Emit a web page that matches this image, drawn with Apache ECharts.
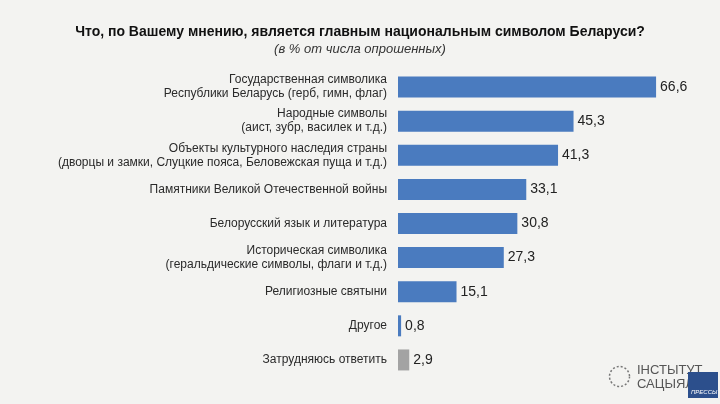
<!DOCTYPE html>
<html>
<head>
<meta charset="utf-8">
<script src="https://cdn.jsdelivr.net/npm/echarts@6/dist/echarts.min.js"></script>
<style>
  html, body { margin: 0; padding: 0; background: #f3f3f1; }
  #chart { width: 720px; height: 404px; }
</style>
</head>
<body>
<div id="chart"></div>
<script>
// ответы (сверху вниз)
var categories = [
    'Государственная символика\nРеспублики Беларусь (герб, гимн, флаг)',
    'Народные символы\n(аист, зубр, василек и т.д.)',
    'Объекты культурного наследия страны\n(дворцы и замки, Слуцкие пояса, Беловежская пуща и т.д.)',
    'Памятники Великой Отечественной войны',
    'Белорусский язык и литература',
    'Историческая символика\n(геральдические символы, флаги и т.д.)',
    'Религиозные святыни',
    'Другое',
    'Затрудняюсь ответить'
];
var values = [66.6, 45.3, 41.3, 33.1, 30.8, 27.3, 15.1, 0.8, 2.9];
var barColors = ['#4a7bbf', '#4a7bbf', '#4a7bbf', '#4a7bbf', '#4a7bbf', '#4a7bbf', '#4a7bbf', '#4a7bbf', '#a3a3a3'];

var chart = echarts.init(document.getElementById('chart'));
chart.setOption({
    backgroundColor: '#f3f3f1',
    title: {
        text: 'Что, по Вашему мнению, является главным национальным символом Беларуси?',
        subtext: '(в % от числа опрошенных)',
        left: 'center',
        top: 20,
        itemGap: 4,
        textStyle: { fontFamily: 'Liberation Sans', fontSize: 14, fontWeight: 'bold', color: '#111' },
        subtextStyle: { fontFamily: 'Liberation Sans', fontSize: 13, fontStyle: 'italic', color: '#333' }
    },
    grid: { left: 398, right: 12, top: 70, bottom: 27 },
    xAxis: {
        type: 'value',
        min: 0,
        max: 80,
        show: false
    },
    yAxis: {
        type: 'category',
        inverse: true,
        data: categories,
        axisLine: { show: false },
        axisTick: { show: false },
        axisLabel: {
            margin: 11,
            fontFamily: 'Liberation Sans',
            fontSize: 12,
            lineHeight: 14,
            color: '#2a2a2a',
            align: 'right'
        }
    },
    series: [{
        type: 'bar',
        barWidth: 21,
        data: values.map(function (v, i) {
            return { value: v, itemStyle: { color: barColors[i] } };
        }),
        label: {
            show: true,
            position: 'right',
            distance: 4,
            fontFamily: 'Liberation Sans',
            fontSize: 14,
            color: '#222',
            formatter: function (p) { return String(p.value).replace('.', ','); }
        }
    }],
    graphic: [
        { type: 'text', left: 637, top: 364, style: { text: 'ІНСТЫТУТ', fontFamily: 'Liberation Sans', fontSize: 13, fill: '#555' } },
        { type: 'text', left: 637, top: 378, style: { text: 'САЦЫЯЛОГІІ', fontFamily: 'Liberation Sans', fontSize: 13, fill: '#555' } },
        { type: 'rect', left: 688, top: 372, shape: { width: 30, height: 26 }, style: { fill: '#2c4f8c' } },
        { type: 'text', left: 691, top: 389, style: { text: 'ПРЕССЫ', fontFamily: 'Liberation Sans', fontSize: 6, fontStyle: 'italic', fill: '#fff' } },
        { type: 'circle', left: 607, top: 364, shape: { r: 10 }, style: { fill: 'none', stroke: '#777', lineWidth: 1.5, lineDash: [2, 2] } }
    ]
});
</script>
</body>
</html>
